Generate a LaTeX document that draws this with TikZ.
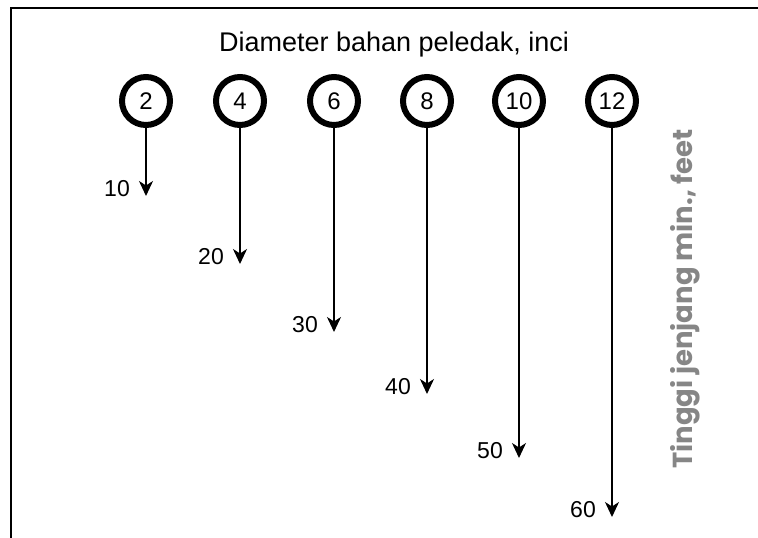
\documentclass[tikz,border=0pt]{standalone}
\usepackage{fontspec}
\setmainfont{Liberation Sans}
\newfontfamily\axisfont{Poppins}
\usetikzlibrary{arrows.meta}
\begin{document}
\begin{tikzpicture}[x=1pt,y=-1pt,
  dia/.style={circle,draw=black,line width=6pt,minimum size=48pt,inner sep=0pt,font=\fontsize{24}{24}\selectfont},
  drop/.style={line width=1.7pt,-{Stealth[length=15pt,width=14pt,inset=4.5pt]}},
  val/.style={anchor=east,inner sep=1pt,font=\fontsize{23}{23}\selectfont}]
  \useasboundingbox (0,0) rectangle (758,538);
  % frame (left and top edges)
  \draw[line width=2.2pt] (11,540) -- (11,8) -- (760,8);
  \node[font=\fontsize{27}{27}\selectfont] (title) at (394,45) {Diameter bahan peledak, inci};
  % diameters and their bench heights
  \foreach \d/\x/\yend/\h in {2/146/196/10, 4/240/264/20, 6/334/332/30, 8/427/394/40, 10/519/458/50, 12/612/517/60}{
    \node[dia] (c\d) at (\x,101) {\d};
    \coordinate (e\d) at (\x,\yend);
    \draw[drop] (c\d.south) -- (e\d);
    \node[val] (v\d) at ([xshift=-15pt,yshift=7pt]e\d) {\h};
  }
  \node[rotate=90,text=gray!95,font=\axisfont\bfseries\fontsize{27.5}{27.5}\selectfont] (axis) at (685,299) {Tinggi jenjang min., feet};
\end{tikzpicture}
\end{document}
